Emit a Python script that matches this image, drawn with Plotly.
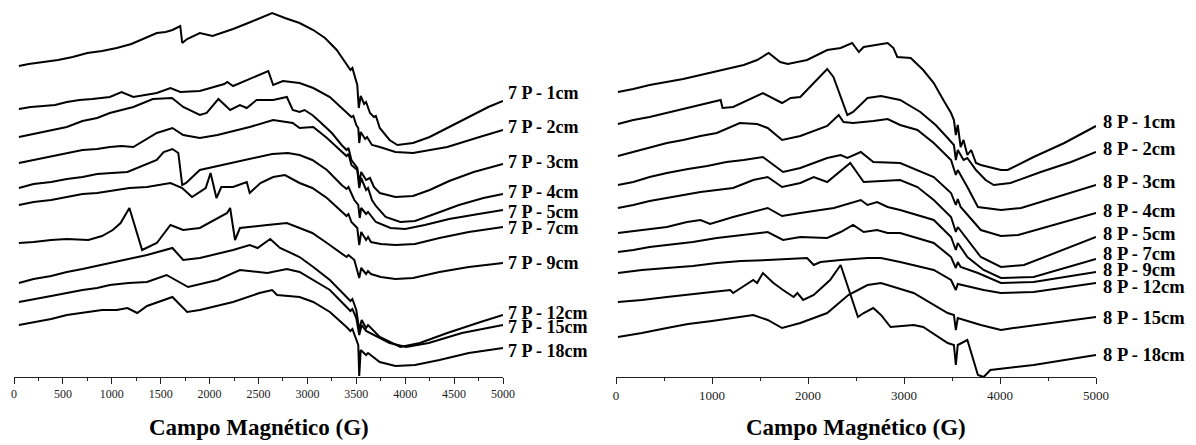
import plotly.graph_objects as go

# ---------------- Left panel: 7 P spectra (field in G, signal in a.u. incl. stacking offset)
x_7p_1 = [50,150,300,450,600,750,900,1050,1200,1350,1460,1550,1620,1700,1720,1770,1900,2030,2150,2240,2420,2640,2770,2920,3060,3180,3300,3400,3440,3460,3490,3510,3525,3545,3580,3600,3640,3680,3700,3740,3840,3920,4080,4250,4450,4650,4850,5000]
y_7p_1 = [334,336,338,340,343,347,349,352,356,362,367,368,370,374,357,361,367,364,368,371,378,387,382,377,370,362,350,336,330,332,322,315,292,304,296,298,287,283,284,272,260,255,257,263,273,283,293,299]

x_7p_2 = [50,170,300,420,540,670,800,980,1100,1220,1460,1600,1700,1900,2150,2180,2240,2400,2570,2600,2650,2750,2920,3060,3230,3400,3450,3470,3500,3520,3530,3545,3590,3610,3660,3740,3900,4080,4430,4760,5000]
y_7p_2 = [291,293,294,295,298,300,301,303,308,303,307,312,308,309,316,318,314,321,328,329,315,319,317,312,303,287,283,284,275,272,257,268,261,263,255,253,248,247,253,263,270]

x_7p_3 = [50,200,380,540,700,850,980,1220,1420,1616,1730,1900,1970,2090,2210,2310,2380,2480,2650,2790,2850,2920,2970,3050,3130,3250,3350,3400,3420,3450,3510,3530,3550,3600,3640,3680,3740,3900,4080,4250,4450,4700,5000]
y_7p_3 = [263,266,270,273,279,282,287,293,301,302,293,285,287,301,290,295,292,300,300,303,290,288,290,285,278,267,255,250,252,240,232,217,228,220,222,213,207,203,204,210,219,228,236]

x_7p_4 = [50,200,380,540,700,850,980,1100,1220,1460,1620,1730,1900,2080,2410,2650,2850,2920,3060,3200,3350,3400,3420,3450,3510,3530,3550,3600,3620,3660,3700,3800,3950,4100,4300,4550,4800,5000]
y_7p_4 = [237,240,244,247,250,251,253,254,253,267,272,265,262,265,273,280,277,272,273,262,248,244,246,235,230,212,222,210,212,200,194,183,178,179,186,195,202,206]

x_7p_5 = [50,200,380,540,700,850,1000,1160,1460,1530,1620,1680,1720,1760,1900,2240,2640,2800,2920,3050,3200,3350,3400,3420,3480,3520,3535,3550,3600,3620,3700,3850,4000,4200,4450,4750,5000]
y_7p_5 = [212,216,218,221,223,226,227,228,240,248,251,247,215,217,230,237,246,247,245,240,230,215,211,213,200,195,182,192,186,188,178,172,171,175,181,186,190]

x_7p_7 = [50,200,380,540,700,850,1000,1180,1360,1480,1600,1720,1820,1960,2010,2070,2120,2240,2380,2410,2520,2650,2770,2920,3050,3200,3350,3400,3420,3450,3510,3530,3550,3600,3620,3650,3750,3900,4100,4350,4650,5000]
y_7p_7 = [195,198,200,203,206,207,209,212,213,215,217,212,203,212,227,202,213,213,218,207,217,223,225,217,212,202,188,184,186,178,172,155,168,160,163,158,156,155,156,162,168,173]

x_7p_9 = [50,200,380,540,760,900,1010,1090,1180,1230,1310,1460,1600,1730,1900,2180,2210,2260,2310,2590,2790,2920,3050,3200,3350,3400,3420,3480,3530,3550,3600,3620,3650,3750,3900,4080,4350,4650,5000]
y_7p_9 = [157,158,160,161,160,164,170,177,192,175,150,157,175,170,172,187,192,160,172,175,177,172,167,157,147,143,145,140,122,132,126,129,126,123,121,122,128,133,137]

x_7p_12 = [50,200,380,540,700,850,980,1170,1360,1620,1730,1900,2240,2410,2490,2620,2720,2920,3060,3230,3400,3440,3460,3500,3530,3555,3600,3620,3740,3950,4150,4430,4770,5000]
y_7p_12 = [117,121,124,128,131,134,137,141,145,152,140,142,150,155,152,161,152,143,133,120,103,99,101,90,70,80,72,75,63,53,57,67,78,85]

x_7p_15 = [50,200,380,540,700,850,980,1170,1360,1560,1780,2080,2310,2590,2790,2920,3060,3230,3400,3440,3460,3500,3530,3555,3600,3640,3840,4010,4240,4580,5000]
y_7p_15 = [98,101,104,107,110,112,115,117,118,125,113,120,130,127,131,128,120,110,93,89,91,82,65,75,69,67,57,53,57,67,75]

x_7p_18 = [50,200,380,540,700,900,1050,1160,1260,1360,1620,1770,1900,2240,2510,2640,2690,2920,3060,3230,3400,3440,3460,3500,3520,3530,3545,3600,3620,3740,3900,4100,4350,4650,5000]
y_7p_18 = [75,78,81,85,87,90,90,92,87,94,103,88,90,98,107,110,105,103,98,88,73,69,71,60,55,24,50,45,47,38,34,35,40,47,52]

# ---------------- Right panel: 8 P spectra
x_8p_1 = [20,180,350,530,700,880,1100,1330,1470,1590,1710,1790,1990,2200,2340,2460,2530,2580,2830,2890,2930,3070,3200,3310,3410,3490,3520,3540,3560,3590,3620,3660,3700,3750,3800,4010,4080,4350,4670,5000]
y_8p_1 = [308,311,315,318,321,325,330,335,340,347,338,336,340,350,352,357,348,353,357,352,343,342,330,317,300,287,280,265,275,253,260,245,250,237,235,230,230,243,257,274]

x_8p_2 = [20,180,350,530,700,860,1010,1090,1110,1220,1530,1730,1820,1920,2060,2200,2265,2410,2470,2620,2760,2960,3170,3330,3455,3520,3540,3560,3620,3660,3750,3850,3935,4110,4425,4740,5000]
y_8p_2 = [276,280,283,287,291,295,298,300,292,293,307,297,302,303,317,331,323,285,288,302,304,300,288,275,262,255,240,250,240,242,230,220,215,217,228,238,248]

x_8p_3 = [20,180,350,530,700,880,1050,1290,1470,1580,1730,1920,2200,2320,2370,2470,2680,2830,2960,3140,3310,3490,3540,3560,3660,3770,4010,4220,5000]
y_8p_3 = [244,248,253,257,260,264,267,277,276,272,260,264,274,285,278,277,279,281,275,270,257,240,225,230,213,193,190,192,215]

x_8p_4 = [20,180,350,530,750,950,1150,1330,1530,1740,1920,2200,2340,2410,2550,2680,2960,3310,3490,3540,3560,3590,3800,4010,4190,5000]
y_8p_4 = [215,218,223,227,231,234,238,240,243,228,232,242,245,242,248,238,237,223,207,195,201,193,170,164,165,187]

x_8p_5 = [20,180,350,530,700,880,1220,1430,1580,1730,1920,2060,2200,2440,2580,2960,3140,3310,3490,3540,3560,3660,3800,4010,4250,5000]
y_8p_5 = [192,195,199,202,205,208,212,220,223,213,217,223,218,237,218,220,213,200,183,168,173,160,143,133,135,163]

x_8p_7 = [20,180,350,530,740,880,980,1220,1580,1730,1920,2270,2550,2620,2720,2830,2960,3310,3490,3540,3560,3660,3830,4010,4350,5000]
y_8p_7 = [167,169,171,173,178,180,176,183,192,184,187,192,200,195,198,193,190,180,163,150,157,143,130,122,123,141]

x_8p_9 = [20,180,350,530,800,1050,1300,1580,1740,1920,2200,2340,2470,2580,2720,2830,2960,3310,3490,3540,3560,3590,3770,4010,4350,5000]
y_8p_9 = [148,150,153,155,158,162,165,168,160,163,162,168,175,168,170,167,167,157,143,132,138,133,127,117,118,128]

x_8p_12 = [20,270,530,800,1050,1300,1580,1990,2060,2130,2340,2620,2760,2960,3310,3490,3540,3560,3830,4010,4350,5000]
y_8p_12 = [127,130,132,134,137,139,140,142,135,138,140,142,142,138,130,120,110,116,110,107,108,117]

x_8p_15 = [20,270,530,750,1000,1220,1430,1580,1730,1920,2200,2420,2620,2760,3100,3455,3520,3540,3560,3800,4010,4140,5000]
y_8p_15 = [63,67,72,76,79,82,85,80,72,77,87,105,115,117,107,87,85,70,82,75,70,72,83]

x_8p_18 = [20,270,530,750,1000,1190,1220,1430,1470,1530,1640,1740,1850,1890,1950,2060,2230,2340,2390,2440,2520,2580,2680,2760,2860,3100,3200,3455,3520,3540,3560,3660,3770,3830,3900,4350,5000]
y_8p_18 = [98,100,103,105,108,110,107,120,117,127,117,110,103,107,100,105,120,135,120,105,83,87,92,85,73,75,73,57,55,35,55,60,25,23,30,35,45]

left_names = ["7 P - 1cm", "7 P - 2cm", "7 P - 3cm", "7 P - 4cm", "7 P - 5cm",
              "7 P - 7cm", "7 P - 9cm", "7 P - 12cm", "7 P - 15cm", "7 P - 18cm"]
left_label_y = [307, 273, 238, 208, 188, 172, 137, 87, 73, 49]
right_names = ["8 P - 1cm", "8 P - 2cm", "8 P - 3cm", "8 P - 4cm", "8 P - 5cm",
               "8 P - 7cm", "8 P - 9cm", "8 P - 12cm", "8 P - 15cm", "8 P - 18cm"]
right_label_y = [278, 251, 218, 189, 166, 146, 130, 113, 82, 45]

left_series = [(x_7p_1, y_7p_1), (x_7p_2, y_7p_2), (x_7p_3, y_7p_3), (x_7p_4, y_7p_4), (x_7p_5, y_7p_5),
               (x_7p_7, y_7p_7), (x_7p_9, y_7p_9), (x_7p_12, y_7p_12), (x_7p_15, y_7p_15), (x_7p_18, y_7p_18)]
right_series = [(x_8p_1, y_8p_1), (x_8p_2, y_8p_2), (x_8p_3, y_8p_3), (x_8p_4, y_8p_4), (x_8p_5, y_8p_5),
                (x_8p_7, y_8p_7), (x_8p_9, y_8p_9), (x_8p_12, y_8p_12), (x_8p_15, y_8p_15), (x_8p_18, y_8p_18)]

FONT = "Liberation Serif"
LINE = dict(color="black", width=2)

fig = go.Figure()
for name, (xs, ys) in zip(left_names, left_series):
    fig.add_trace(go.Scatter(x=xs, y=ys, mode="lines", line=LINE, name=name,
                             xaxis="x", yaxis="y", showlegend=False, hoverinfo="skip"))
for name, (xs, ys) in zip(right_names, right_series):
    fig.add_trace(go.Scatter(x=xs, y=ys, mode="lines", line=LINE, name=name,
                             xaxis="x2", yaxis="y2", showlegend=False, hoverinfo="skip"))

LEFT_DOMAIN = [14 / 1196, 503 / 1196]
RIGHT_DOMAIN = [616 / 1196, 1096 / 1196]

annotations = []
for name, yv in zip(left_names, left_label_y):
    annotations.append(dict(x=LEFT_DOMAIN[1] + 3 / 1196, y=yv, xref="paper", yref="y",
                            text="<b>%s</b>" % name,
                            showarrow=False, xanchor="left", yanchor="middle",
                            font=dict(family=FONT, size=18, color="black")))
for name, yv in zip(right_names, right_label_y):
    annotations.append(dict(x=RIGHT_DOMAIN[1] + 5 / 1196, y=yv, xref="paper", yref="y2",
                            text="<b>%s</b>" % name,
                            showarrow=False, xanchor="left", yanchor="middle",
                            font=dict(family=FONT, size=18.5, color="black")))
for xr in ["x", "x2"]:
    annotations.append(dict(x=2500, y=18 / 445, xref=xr, yref="paper",
                            text="<b>Campo Magnético (G)</b>", showarrow=False,
                            xanchor="center", yanchor="middle",
                            font=dict(family=FONT, size=23, color="black")))

axis_common = dict(range=[0, 5000], showline=True, linecolor="#222", linewidth=1,
                   ticks="outside", ticklen=6, tickcolor="#222", tickwidth=1,
                   showgrid=False, zeroline=False, automargin=False)

fig.update_layout(
    width=1196, height=445,
    margin=dict(l=0, r=0, t=0, b=0, pad=0, autoexpand=False),
    paper_bgcolor="white", plot_bgcolor="white",
    xaxis=dict(domain=LEFT_DOMAIN, anchor="y", tick0=0, dtick=500,
               minor=dict(dtick=250, ticks="outside", ticklen=3, tickcolor="#222"),
               tickfont=dict(family=FONT, size=12, color="#222"), **axis_common),
    xaxis2=dict(domain=RIGHT_DOMAIN, anchor="y2", tick0=0, dtick=1000,
                minor=dict(dtick=500, ticks="outside", ticklen=3, tickcolor="#222"),
                tickfont=dict(family=FONT, size=13, color="#222"), **axis_common),
    yaxis=dict(domain=[68 / 445, 1], range=[23, 400], visible=False, anchor="x"),
    yaxis2=dict(domain=[68 / 445, 1], range=[23, 400], visible=False, anchor="x2"),
    annotations=annotations,
)

fig.write_html("out.html")
